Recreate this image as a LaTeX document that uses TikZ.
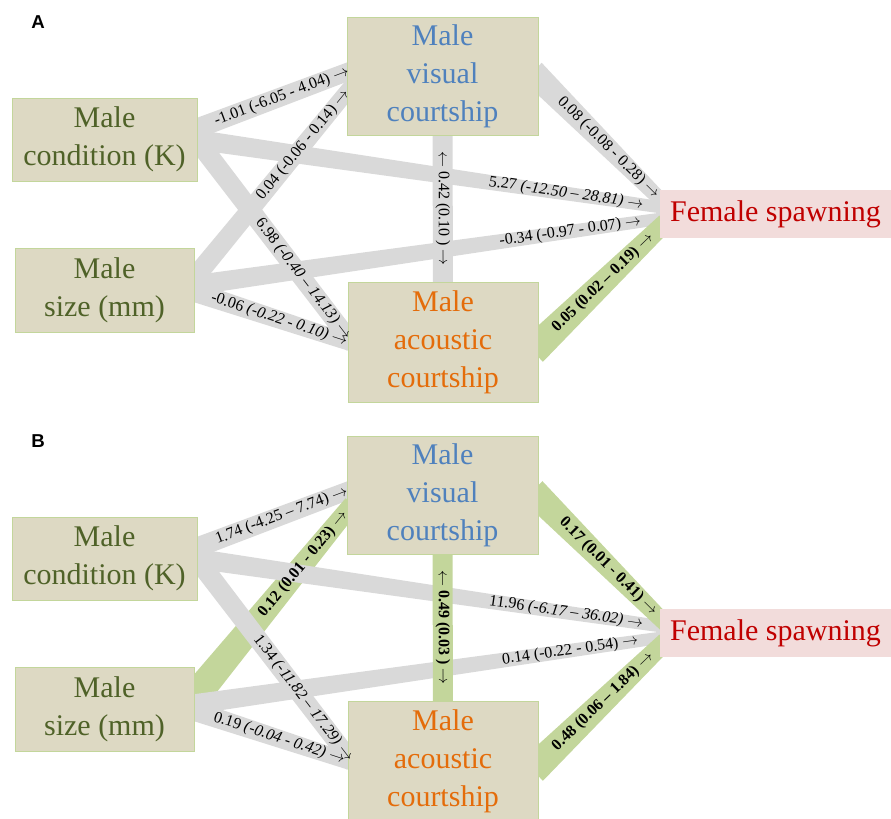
\documentclass[tikz,border=0pt]{standalone}
\usepackage{fontspec}
\setmainfont{Liberation Serif}
\setsansfont{Liberation Sans}
\usetikzlibrary{calc,backgrounds}
\definecolor{boxfill}{RGB}{221,217,195}
\definecolor{boxline}{RGB}{195,214,155}
\definecolor{pathgrey}{RGB}{217,217,217}
\definecolor{pathgreen}{RGB}{195,214,155}
\definecolor{olive}{RGB}{79,98,40}
\definecolor{visblue}{RGB}{79,129,189}
\definecolor{acouorange}{RGB}{228,108,10}
\definecolor{femred}{RGB}{192,0,0}
\definecolor{fempink}{RGB}{242,220,219}
\newcommand{\ra}{$\rightarrow$}
\newcommand{\la}{$\leftarrow$}
\tikzset{
  malebox/.style={draw=boxline, fill=boxfill, line width=0.75pt, inner sep=0pt, align=center, font=\fontsize{22.5}{28.5}\selectfont},
  fembox/.style={fill=fempink, inner sep=0pt, text=femred, font=\fontsize{22.5}{28.5}\selectfont},
  lbl/.style={sloped, inner sep=0pt, font=\fontsize{12}{14}\selectfont},
  lblbold/.style={lbl, font=\fontsize{12}{14}\selectfont\bfseries},
  panellab/.style={font=\sffamily\bfseries\fontsize{14}{16}\selectfont}
}
% tapered band: from, to, width at start, width at end (px), colour
\newcommand{\band}[5]{\fill[#5] ($(#1)!#3*0.375pt!90:(#2)$) -- ($(#2)!#4*0.375pt!-90:(#1)$) -- ($(#2)!#4*0.375pt!90:(#1)$) -- ($(#1)!#3*0.375pt!-90:(#2)$) -- cycle;}
% boxes and band ends of one panel: letter, vertical offset (px)
\newcommand{\drawpanel}[2]{
  \node[panellab] (lab#1) at (38,22+#2) {#1};
  \node[malebox, text=olive, minimum width=138.75pt, minimum height=62.25pt] (cond#1) at (104.5,139.5+#2) {Male\\condition (K)};
  \node[malebox, text=olive, minimum width=134.25pt, minimum height=63pt] (size#1) at (104.5,290+#2) {Male\\size (mm)};
  \node[malebox, text=visblue, minimum width=143.25pt, minimum height=88.5pt] (vis#1) at (442.5,76+#2) {Male\\visual\\courtship};
  \node[malebox, text=acouorange, minimum width=142.5pt, minimum height=90pt] (acou#1) at (443,342+#2) {Male\\acoustic\\courtship};
  \node[fembox, minimum width=173.25pt, minimum height=36pt] (fem#1) at (775.5,214+#2) {Female spawning};
  \coordinate (c2v#1) at ($(cond#1.east)+(-6,-9)$);
  \coordinate (v2c#1) at ($(vis#1.west)+(6,-6)$);
  \coordinate (s2v#1) at ($(size#1.east)+(-6,-5)$);
  \coordinate (v2s#1) at ($(vis#1.west)+(6,9)$);
  \coordinate (c2a#1) at ($(cond#1.east)+(-6,-6.5)$);
  \coordinate (a2c#1) at ($(acou#1.west)+(6,3)$);
  \coordinate (s2a#1) at ($(size#1.east)+(-6,0)$);
  \coordinate (a2s#1) at ($(acou#1.west)+(6,2)$);
  \coordinate (c2f#1) at ($(cond#1.east)+(-6,-0.5)$);
  \coordinate (f2c#1) at ($(fem#1.west)+(6,-6)$);
  \coordinate (s2f#1) at ($(size#1.east)+(-6,-4)$);
  \coordinate (f2s#1) at ($(fem#1.west)+(6,4)$);
  \coordinate (v2f#1) at ($(vis#1.east)+(-6,-4)$);
  \coordinate (f2v#1) at ($(fem#1.west)+(6,-9)$);
  \coordinate (a2f#1) at ($(acou#1.east)+(-6,9)$);
  \coordinate (f2a#1) at ($(fem#1.west)+(6,8)$);
  \coordinate (v2a#1) at ($(vis#1.south)+(0,-6)$);
  \coordinate (a2v#1) at ($(acou#1.north)+(0,6)$);
}

\begin{document}
\begin{tikzpicture}[x=0.75pt,y=-0.75pt]
\useasboundingbox (0,0) rectangle (891,818);
\clip (0,0) rectangle (891,818);
\drawpanel{A}{0}
\drawpanel{B}{419}
\begin{scope}[on background layer]
  % panel A
  \band{c2vA}{v2cA}{20}{18}{pathgrey}
  \band{s2vA}{v2sA}{20}{16}{pathgrey}
  \band{c2aA}{a2cA}{20}{18}{pathgrey}
  \band{s2aA}{a2sA}{20}{16}{pathgrey}
  \band{c2fA}{f2cA}{20}{12}{pathgrey}
  \band{s2fA}{f2sA}{20}{12}{pathgrey}
  \band{v2fA}{f2vA}{26}{14}{pathgrey}
  \band{a2fA}{f2aA}{30}{18}{pathgreen}
  \band{v2aA}{a2vA}{20}{20}{pathgrey}
  % panel B
  \band{c2vB}{v2cB}{20}{18}{pathgrey}
  \band{s2vB}{v2sB}{30}{18}{pathgreen}
  \band{c2aB}{a2cB}{20}{18}{pathgrey}
  \band{s2aB}{a2sB}{20}{16}{pathgrey}
  \band{c2fB}{f2cB}{20}{12}{pathgrey}
  \band{s2fB}{f2sB}{20}{12}{pathgrey}
  \band{v2fB}{f2vB}{28}{16}{pathgreen}
  \band{a2fB}{f2aB}{30}{18}{pathgreen}
  \band{v2aB}{a2vB}{20}{20}{pathgreen}
\end{scope}
% panel A labels
\path (c2vA) -- (v2cA) node[lbl, pos=.56] {-1.01 (-6.05 - 4.04) \ra};
\path (s2vA) -- (v2sA) node[lbl, pos=.7] {0.04 (-0.06 - 0.14) \ra};
\path (c2aA) -- (a2cA) node[lbl, pos=.69] {6.98 \textit{(-0.40 – 14.13)} \ra};
\path (s2aA) -- (a2sA) node[lbl, pos=.55] {-0.06 \textit{(-0.22 - 0.10)} \ra};
\path (c2fA) -- (f2cA) node[lbl, pos=.79] {5.27 \textit{(-12.50 – 28.81)} \ra};
\path (s2fA) -- (f2sA) node[lbl, pos=.8] {-0.34 (-0.97 - 0.07) \ra};
\path (v2fA) -- (f2vA) node[lbl, pos=.57] {0.08 (-0.08 - 0.28) \ra};
\path (a2fA) -- (f2aA) node[lblbold, pos=.53] {0.05 (0.02 – 0.19) \ra};
\path (a2vA) -- (v2aA) node[lbl, pos=.5] {\la{} 0.42 (0.10 ) \ra};
% panel B labels
\path (c2vB) -- (v2cB) node[lbl, pos=.56] {1.74 (-4.25 – 7.74) \ra};
\path (s2vB) -- (v2sB) node[lblbold, pos=.7] {0.12 (0.01 - 0.23) \ra};
\path (c2aB) -- (a2cB) node[lbl, pos=.69] {1.34 \textit{(-11.82 – 17.29)} \ra};
\path (s2aB) -- (a2sB) node[lbl, pos=.55] {0.19 \textit{(-0.04 - 0.42)} \ra};
\path (c2fB) -- (f2cB) node[lbl, pos=.79] {11.96 \textit{(-6.17 – 36.02)} \ra};
\path (s2fB) -- (f2sB) node[lbl, pos=.8] {0.14 (-0.22 - 0.54) \ra};
\path (v2fB) -- (f2vB) node[lblbold, pos=.57] {0.17 (0.01 - 0.41) \ra};
\path (a2fB) -- (f2aB) node[lblbold, pos=.53] {0.48 (0.06 – 1.84) \ra};
\path (a2vB) -- (v2aB) node[lblbold, pos=.5] {\la{} 0.49 (0.03 ) \ra};
\end{tikzpicture}
\end{document}
